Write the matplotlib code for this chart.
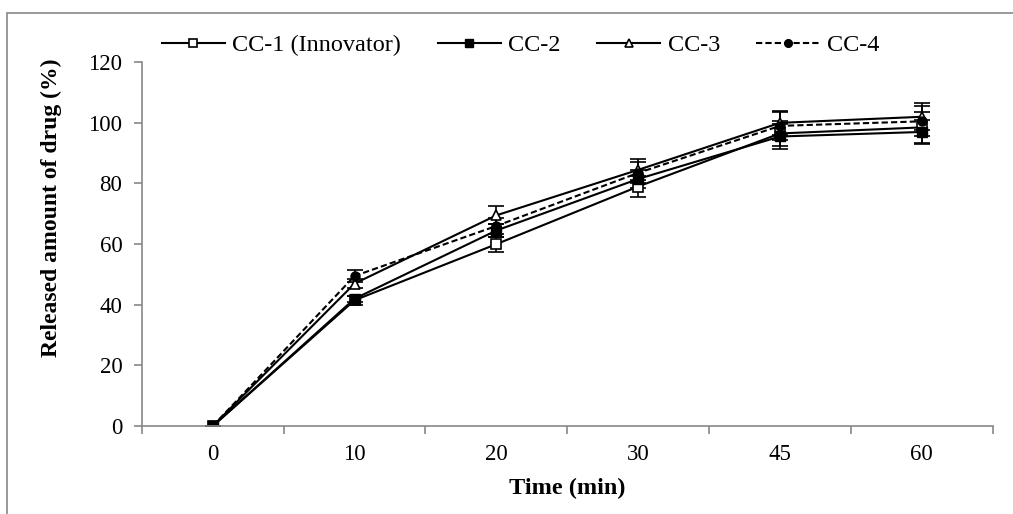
import numpy as np
import matplotlib
matplotlib.use("Agg")
import matplotlib.pyplot as plt
from matplotlib.patches import Rectangle

plt.rcParams["font.family"] = ["Liberation Serif", "DejaVu Serif"]

# --- data ---
time_labels = ["0", "10", "20", "30", "45", "60"]
cc1 = [0, 41.5, 60.0, 79.0, 96.5, 98.5]
cc2 = [0, 42.0, 64.5, 81.5, 95.5, 97.0]
cc3 = [0, 47.0, 69.5, 84.5, 100.0, 102.0]
cc4 = [0, 49.5, 66.0, 83.5, 99.0, 100.5]
cc1_err = [0, 1.5, 2.5, 3.5, 4.0, 5.0]
cc2_err = [0, 1.0, 2.0, 3.0, 4.0, 4.0]
cc3_err = [0, 1.5, 3.0, 3.5, 4.0, 4.5]
cc4_err = [0, 2.0, 2.5, 3.5, 4.5, 5.0]

fig = plt.figure(figsize=(10.13, 5.14), dpi=100)
ax = fig.add_axes([0.140, 0.171, 0.840, 0.708])

x = np.arange(len(time_labels))
common = dict(color="black", lw=1.5, ms=6.5, capsize=6, elinewidth=1.2, capthick=1.2)

ax.errorbar(x, cc1, yerr=cc1_err, marker="s", mfc="white", mec="black",
            mew=1.2, ls="-", label="CC-1 (Innovator)", **common)
ax.errorbar(x, cc2, yerr=cc2_err, marker="s", mfc="black", mec="black",
            ls="-", label="CC-2", **common)
ax.errorbar(x, cc3, yerr=cc3_err, marker="^", mfc="white", mec="black",
            mew=1.2, ls="-", label="CC-3", **common)
ax.errorbar(x, cc4, yerr=cc4_err, marker="o", mfc="black", mec="black",
            ls=(0, (3, 1.5)), label="CC-4", **common)

ax.set_xlim(-0.5, len(time_labels) - 0.5)
ax.set_ylim(0, 120)
ax.set_yticks(np.arange(0, 121, 20))
ax.set_xticks(x)
ax.set_xticklabels(time_labels)
ax.set_xticks(np.arange(-0.5, len(time_labels)), minor=True)

grey = "#878787"
for s in ["top", "right"]:
    ax.spines[s].set_visible(False)
for s in ["left", "bottom"]:
    ax.spines[s].set_color(grey)
    ax.spines[s].set_linewidth(1.2)

ax.tick_params(axis="x", which="major", length=0, labelsize=16.5, pad=13)
ax.tick_params(axis="x", which="minor", length=6, color=grey, width=1.2, direction="out")
ax.tick_params(axis="y", length=6, color=grey, width=1.2, labelsize=16.5, pad=8)

ax.set_xlabel("Time (min)", fontsize=17.5, fontweight="bold", labelpad=9)
ax.set_ylabel("Released amount of drug (%)", fontsize=17, fontweight="bold")
ax.yaxis.set_label_coords(-0.094, 0.60)

# legend without error bar handles
handles, labels = ax.get_legend_handles_labels()
handles = [h[0] for h in handles]
ax.legend(handles, labels, loc="lower left", bbox_to_anchor=(0.012, 0.99), ncol=4,
          frameon=False, fontsize=17.5, handlelength=2.6, handletextpad=0.3,
          columnspacing=1.5, borderaxespad=0, markerscale=0.85)

# outer chart border (cropped on right and bottom)
fig.patches.append(Rectangle((0.007, -0.1), 1.1, 1.075, transform=fig.transFigure,
                             fill=False, edgecolor=grey, lw=1.2))

fig.savefig("out.png", dpi=100)
